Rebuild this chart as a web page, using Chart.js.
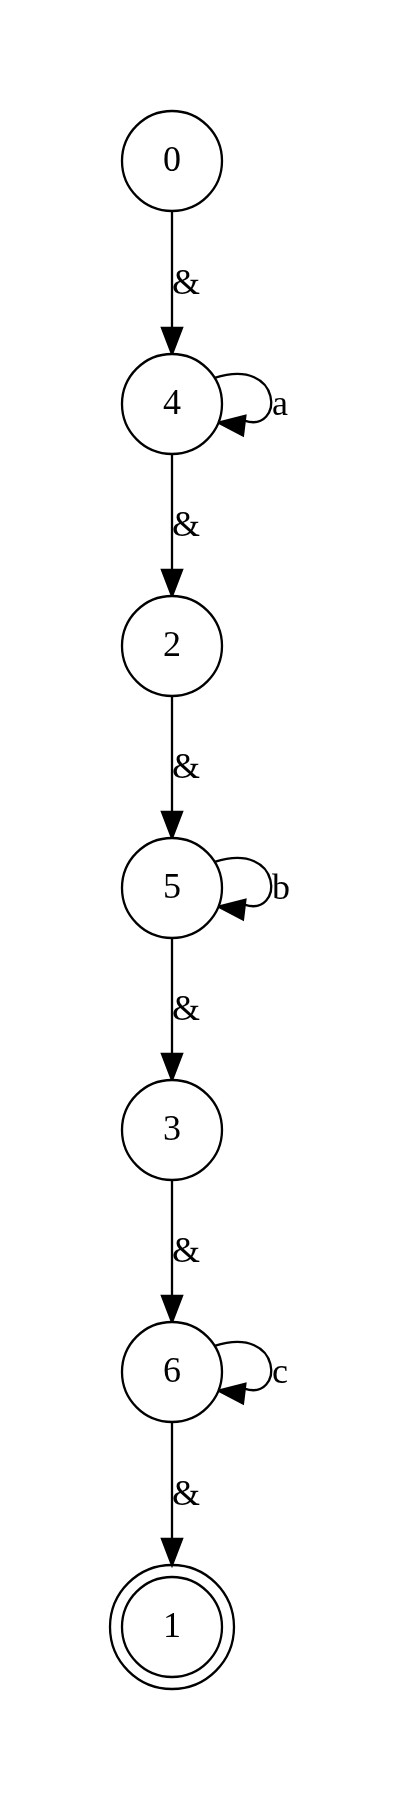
<!DOCTYPE html>
<html>
<head>
<meta charset="utf-8">
<script src="https://cdn.jsdelivr.net/npm/chart.js@4"></script>
<style>
  html, body { margin: 0; padding: 0; background: #fff; }
  #wrap { width: 403px; height: 1795px; position: relative; }
</style>
</head>
<body>
<div id="wrap"><canvas id="graph"></canvas></div>
<script>
// states, top to bottom
var nodeNames = ["0", "4", "2", "5", "3", "6", "1"];
var nodeX = [172, 172, 172, 172, 172, 172, 172];
var nodeY = [161, 404, 646, 888, 1130, 1372, 1627];
var finalStates = ["1"];

// transitions
var edgeFrom = ["0", "4", "2", "5", "3", "6"];
var edgeTo = ["4", "2", "5", "3", "6", "1"];
var edgeLabels = ["&", "&", "&", "&", "&", "&"];

// self loops
var loopNodes = ["4", "5", "6"];
var loopLabels = ["a", "b", "c"];

var R = 50;
var FONT = "36px 'Liberation Serif', 'DejaVu Serif', serif";

function nodePos(chart, name) {
  var i = nodeNames.indexOf(name);
  return {
    x: chart.scales.x.getPixelForValue(nodeX[i]),
    y: chart.scales.y.getPixelForValue(nodeY[i])
  };
}

function arrowHead(ctx, x, y, dx, dy) {
  var len = 26, half = 10;
  var px = -dy, py = dx;
  ctx.beginPath();
  ctx.moveTo(x, y);
  ctx.lineTo(x - dx * len + px * half, y - dy * len + py * half);
  ctx.lineTo(x - dx * len - px * half, y - dy * len - py * half);
  ctx.closePath();
  ctx.fill();
  ctx.stroke();
}

var graphPlugin = {
  id: "graph",
  beforeDatasetsDraw: function (chart) {
    var ctx = chart.ctx;
    ctx.save();
    ctx.strokeStyle = "#000";
    ctx.fillStyle = "#000";
    ctx.lineWidth = 2.3;
    ctx.font = FONT;
    ctx.textBaseline = "middle";
    ctx.textAlign = "left";

    for (var i = 0; i < edgeFrom.length; i++) {
      var a = nodePos(chart, edgeFrom[i]);
      var b = nodePos(chart, edgeTo[i]);
      var rb = finalStates.indexOf(edgeTo[i]) >= 0 ? R + 12 : R;
      var y1 = a.y + R, y2 = b.y - rb;
      ctx.beginPath();
      ctx.moveTo(a.x, y1);
      ctx.lineTo(b.x, y2 - 24);
      ctx.stroke();
      arrowHead(ctx, b.x, y2, 0, 1);
      ctx.fillText(edgeLabels[i], a.x, (y1 + y2) / 2 + 2);
    }

    for (var j = 0; j < loopNodes.length; j++) {
      var p = nodePos(chart, loopNodes[j]);
      var sx = p.x + R * Math.cos(-0.55), sy = p.y + R * Math.sin(-0.55);
      var ex = p.x + R * Math.cos(0.38), ey = p.y + R * Math.sin(0.38);
      ctx.beginPath();
      ctx.moveTo(sx, sy);
      ctx.bezierCurveTo(p.x + 112, p.y - 48, p.x + 112, p.y + 30, ex + 26, ey - 2);
      ctx.stroke();
      arrowHead(ctx, ex, ey, -0.99, -0.12);
      ctx.fillText(loopLabels[j], p.x + 100, p.y + 2);
    }
    ctx.restore();
  },
  afterDatasetsDraw: function (chart) {
    var ctx = chart.ctx;
    ctx.save();
    ctx.lineWidth = 2.3;
    ctx.strokeStyle = "#000";
    ctx.fillStyle = "#000";
    for (var k = 0; k < finalStates.length; k++) {
      var p = nodePos(chart, finalStates[k]);
      ctx.beginPath();
      ctx.arc(p.x, p.y, R + 12, 0, Math.PI * 2);
      ctx.stroke();
    }
    ctx.font = FONT;
    ctx.textAlign = "center";
    ctx.textBaseline = "middle";
    for (var i = 0; i < nodeNames.length; i++) {
      var q = nodePos(chart, nodeNames[i]);
      ctx.fillText(nodeNames[i], q.x, q.y + 1);
    }
    ctx.restore();
  }
};

var points = nodeNames.map(function (n, i) { return { x: nodeX[i], y: nodeY[i] }; });

new Chart(document.getElementById("graph"), {
  type: "scatter",
  data: {
    datasets: [{
      data: points,
      pointRadius: R,
      pointHoverRadius: R,
      pointBackgroundColor: "#fff",
      pointBorderColor: "#000",
      pointBorderWidth: 2.3,
      pointHoverBorderWidth: 2.3
    }]
  },
  options: {
    responsive: true,
    maintainAspectRatio: false,
    animation: false,
    events: [],
    layout: { padding: 0, autoPadding: false },
    plugins: { legend: { display: false }, tooltip: { enabled: false } },
    scales: {
      x: { type: "linear", min: 0, max: 403, display: false },
      y: { type: "linear", min: 0, max: 1795, reverse: true, display: false }
    }
  },
  plugins: [graphPlugin]
});
</script>
</body>
</html>
